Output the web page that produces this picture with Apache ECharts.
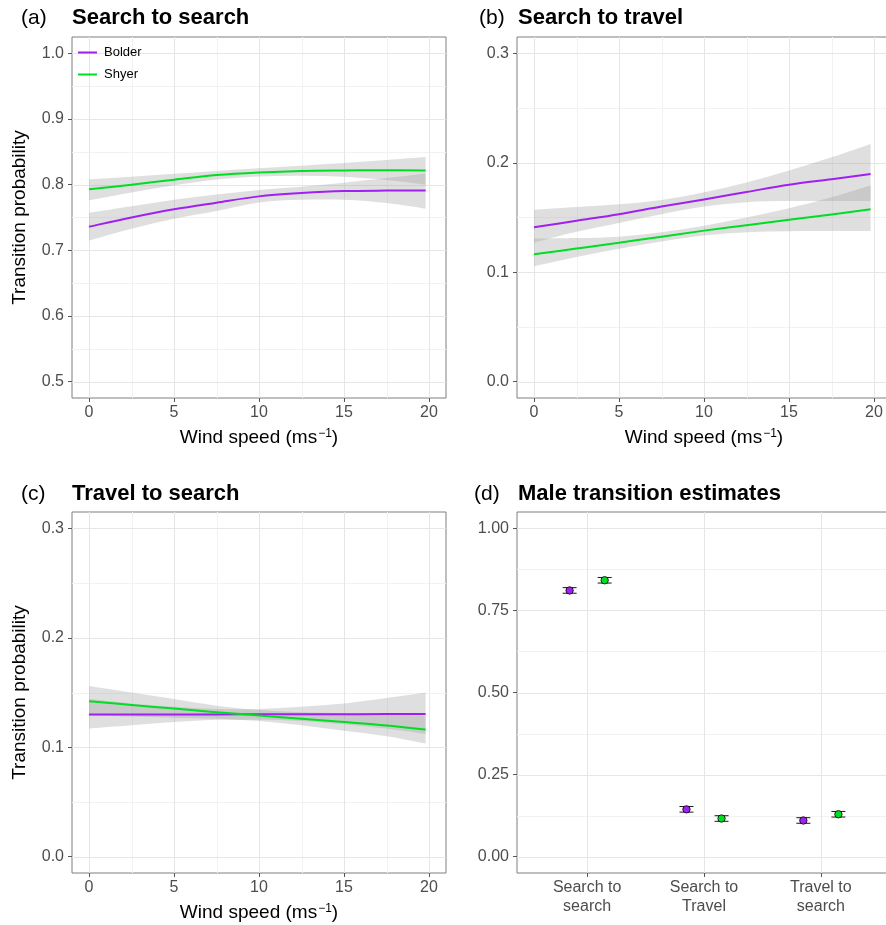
<!DOCTYPE html>
<html>
<head>
<meta charset="utf-8">
<script src="https://cdn.jsdelivr.net/npm/echarts@6.0.0/dist/echarts.min.js"></script>
<style>
html,body{margin:0;padding:0;background:#fff;}
#chart{width:886px;height:925px;}
</style>
</head>
<body>
<div id="chart"></div>
<script>
// ---------------- DATA ----------------
const windSpeed = [0, 2.5, 5, 7.5, 10, 12.5, 15, 17.5, 19.8];
const windTicks = [0, 5, 10, 15, 20];

// (a) Search to search
const aBolderFit  = [0.736, 0.750, 0.7625, 0.7726, 0.7822, 0.7872, 0.7903, 0.791, 0.791];
const aBolderLow  = [0.715, 0.733, 0.748, 0.760, 0.773, 0.777, 0.777, 0.772, 0.7635];
const aBolderHigh = [0.757, 0.767, 0.777, 0.785, 0.792, 0.797, 0.803, 0.810, 0.817];
const aShyerFit   = [0.793, 0.800, 0.8076, 0.8147, 0.8187, 0.821, 0.8217, 0.822, 0.8217];
const aShyerLow   = [0.776, 0.788, 0.799, 0.808, 0.8125, 0.8135, 0.812, 0.807, 0.800];
const aShyerHigh  = [0.808, 0.812, 0.8165, 0.821, 0.825, 0.829, 0.833, 0.8375, 0.842];
const aProbTicks  = [0.5, 0.6, 0.7, 0.8, 0.9, 1.0];

// (b) Search to travel
const bBolderFit  = [0.141, 0.147, 0.153, 0.160, 0.1665, 0.1733, 0.180, 0.185, 0.1897];
const bBolderLow  = [0.127, 0.137, 0.145, 0.153, 0.160, 0.164, 0.165, 0.165, 0.165];
const bBolderHigh = [0.157, 0.1595, 0.162, 0.166, 0.173, 0.182, 0.193, 0.205, 0.2173];
const bShyerFit   = [0.1164, 0.1216, 0.127, 0.1325, 0.138, 0.143, 0.148, 0.1528, 0.1575];
const bShyerLow   = [0.1055, 0.114, 0.1215, 0.128, 0.1335, 0.1365, 0.1375, 0.1377, 0.1377];
const bShyerHigh  = [0.1307, 0.1312, 0.1325, 0.1365, 0.1425, 0.150, 0.1585, 0.1685, 0.1793];
const bcProbTicks = [0.0, 0.1, 0.2, 0.3];

// (c) Travel to search
const cBolderFit  = [0.1298, 0.1299, 0.1300, 0.1300, 0.1301, 0.1302, 0.1302, 0.1303, 0.1304];
const cBolderLow  = [0.117, 0.120, 0.123, 0.125, 0.125, 0.124, 0.121, 0.117, 0.112];
const cBolderHigh = [0.144, 0.140, 0.137, 0.135, 0.135, 0.137, 0.140, 0.145, 0.150];
const cShyerFit   = [0.142, 0.1386, 0.1353, 0.1320, 0.1290, 0.1260, 0.1230, 0.1198, 0.1161];
const cShyerLow   = [0.129, 0.128, 0.127, 0.126, 0.124, 0.120, 0.115, 0.110, 0.1034];
const cShyerHigh  = [0.156, 0.150, 0.144, 0.138, 0.134, 0.132, 0.131, 0.130, 0.129];

// (d) Male transition estimates
const transitions = ['Search to\nsearch', 'Search to\nTravel', 'Travel to\nsearch'];
const dBolderMean = [0.811, 0.144, 0.110];
const dBolderLow  = [0.8025, 0.1355, 0.1015];
const dBolderHigh = [0.8195, 0.1525, 0.1185];
const dShyerMean  = [0.842, 0.116, 0.129];
const dShyerLow   = [0.8335, 0.1075, 0.1205];
const dShyerHigh  = [0.8505, 0.1245, 0.1375];
const dProbTicks  = [0, 0.25, 0.5, 0.75, 1.0];

const groups = ['Bolder', 'Shyer'];
const panelTitles = ['Search to search', 'Search to travel', 'Travel to search', 'Male transition estimates'];
const panelTags = ['(a)', '(b)', '(c)', '(d)'];

// ---------------- STYLE ----------------
const FONT = 'Liberation Sans, Arial, Helvetica, sans-serif';
const PURPLE = '#A020F0';
const GREEN = '#00DD22';
const RIBBON = 'rgba(153,153,153,0.31)';
const BORDER = '#7f7f7f';
const TICKCOL = '#555555';
const LABELCOL = '#4d4d4d';

function mids(t) { const r = []; for (let i = 0; i < t.length - 1; i++) r.push((t[i] + t[i + 1]) / 2); return r; }

const grids = [
  { left: 72, top: 37, right: 440, height: 361 },
  { left: 517, top: 37, right: -5, height: 361 },
  { left: 72, top: 512, right: 440, height: 361 },
  { left: 517, top: 512, right: -5, height: 361 }
].map(g => Object.assign({ show: true, borderColor: BORDER, borderWidth: 1, backgroundColor: '#fff', containLabel: false, outerBoundsMode: 'none' }, g));

const nameStyle = {
  fontSize: 19, color: '#000', fontFamily: FONT,
  rich: { sup: { fontSize: 12, color: '#000', fontFamily: FONT, verticalAlign: 'top', padding: [0, 0, 0, 1] } }
};

function xWind(gi) {
  return {
    type: 'value', gridIndex: gi, min: -1, max: 21,
    name: 'Wind speed (ms{sup|\u22121})', nameLocation: 'middle', nameGap: 30, nameTextStyle: nameStyle,
    axisLine: { show: false, onZero: false },
    axisTick: { show: true, customValues: windTicks, length: 4, lineStyle: { color: TICKCOL } },
    axisLabel: { customValues: windTicks, margin: 7, fontSize: 16, color: LABELCOL, fontFamily: FONT },
    splitLine: { show: false }
  };
}
function yProb(gi, min, max, ticks, dec, name) {
  const ax = {
    type: 'value', gridIndex: gi, min: min, max: max,
    axisLine: { show: false, onZero: false },
    axisTick: { show: true, customValues: ticks, length: 4, lineStyle: { color: TICKCOL } },
    axisLabel: { customValues: ticks, margin: 8, fontSize: 16, color: LABELCOL, fontFamily: FONT, formatter: v => v.toFixed(dec) },
    splitLine: { show: false }
  };
  if (name) {
    Object.assign(ax, { name: name, nameLocation: 'middle', nameGap: 43, nameRotate: 90, nameTextStyle: { fontSize: 19, color: '#000', fontFamily: FONT } });
  }
  return ax;
}

const xAxes = [
  xWind(0), xWind(1), xWind(2),
  {
    type: 'value', gridIndex: 3, min: 0.4, max: 3.6,
    axisLine: { show: false, onZero: false },
    axisTick: { show: true, customValues: [1, 2, 3], length: 4, lineStyle: { color: TICKCOL } },
    axisLabel: { customValues: [1, 2, 3], margin: 5, fontSize: 16, lineHeight: 19, color: LABELCOL, fontFamily: FONT,
      formatter: v => transitions[Math.round(v) - 1] },
    splitLine: { show: false }
  }
];
const yAxes = [
  yProb(0, 0.475, 1.025, aProbTicks, 1, 'Transition probability'),
  yProb(1, -0.015, 0.315, bcProbTicks, 1, null),
  yProb(2, -0.015, 0.315, bcProbTicks, 1, 'Transition probability'),
  yProb(3, -0.05, 1.05, dProbTicks, 2, null)
];

// grid lines drawn through the axes' scales
function gridLines(gi, xMaj, xMin, yMaj, yMin) {
  return {
    type: 'custom', xAxisIndex: gi, yAxisIndex: gi, z: 0, silent: true, data: [[xMaj[0], yMaj[0]]],
    renderItem: function (params, api) {
      const cs = params.coordSys;
      const ch = [];
      const vline = (v, col, w) => {
        const x = Math.round(api.coord([v, yMaj[0]])[0]) + 0.5;
        ch.push({ type: 'line', shape: { x1: x, y1: cs.y, x2: x, y2: cs.y + cs.height }, style: { stroke: col, lineWidth: w } });
      };
      const hline = (v, col, w) => {
        const y = Math.round(api.coord([xMaj[0], v])[1]) + 0.5;
        ch.push({ type: 'line', shape: { x1: cs.x, y1: y, x2: cs.x + cs.width, y2: y }, style: { stroke: col, lineWidth: w } });
      };
      xMin.forEach(v => vline(v, '#f2f2f2', 1));
      yMin.forEach(v => hline(v, '#f2f2f2', 1));
      xMaj.forEach(v => vline(v, '#e6e6e6', 1));
      yMaj.forEach(v => hline(v, '#e6e6e6', 1));
      return { type: 'group', children: ch };
    }
  };
}

// smooth path (Catmull-Rom -> cubic Bezier) through pixel points
function curveCmds(pts, first) {
  let d = (first ? 'M' : 'L') + pts[0][0].toFixed(2) + ',' + pts[0][1].toFixed(2);
  for (let i = 0; i < pts.length - 1; i++) {
    const p0 = pts[Math.max(i - 1, 0)], p1 = pts[i], p2 = pts[i + 1], p3 = pts[Math.min(i + 2, pts.length - 1)];
    const c1 = [p1[0] + (p2[0] - p0[0]) / 6, p1[1] + (p2[1] - p0[1]) / 6];
    const c2 = [p2[0] - (p3[0] - p1[0]) / 6, p2[1] - (p3[1] - p1[1]) / 6];
    d += 'C' + c1[0].toFixed(2) + ',' + c1[1].toFixed(2) + ' ' + c2[0].toFixed(2) + ',' + c2[1].toFixed(2) + ' ' + p2[0].toFixed(2) + ',' + p2[1].toFixed(2);
  }
  return d;
}

function ribbon(gi, low, high) {
  return {
    type: 'custom', xAxisIndex: gi, yAxisIndex: gi, z: 1, silent: true,
    data: windSpeed.map((x, i) => [x, low[i], high[i]]),
    renderItem: function (params, api) {
      if (params.dataIndex !== 0) return null;
      const up = windSpeed.map((x, i) => api.coord([x, high[i]]));
      const lo = windSpeed.map((x, i) => api.coord([x, low[i]])).reverse();
      const d = curveCmds(up, true) + curveCmds(lo, false) + 'Z';
      return { type: 'path', shape: { pathData: d }, style: { fill: RIBBON, stroke: null } };
    }
  };
}
function fitLine(gi, name, fit, color) {
  return {
    type: 'custom', xAxisIndex: gi, yAxisIndex: gi, name: name, z: 3, color: color,
    data: windSpeed.map((x, i) => [x, fit[i]]),
    renderItem: function (params, api) {
      if (params.dataIndex !== 0) return null;
      const pts = windSpeed.map((x, i) => api.coord([x, fit[i]]));
      return { type: 'path', shape: { pathData: curveCmds(pts, true) },
        style: { fill: null, stroke: color, lineWidth: 2, lineCap: 'butt', lineJoin: 'round' } };
    }
  };
}

const dodge = [-0.15, 0.15];
function estSeries(gidx, mean, low, high, color) {
  return {
    type: 'custom', xAxisIndex: 3, yAxisIndex: 3, name: groups[gidx] + ' estimate', z: 3,
    data: mean.map((m, i) => [i + 1 + dodge[gidx], m, low[i], high[i]]),
    renderItem: function (params, api) {
      const x = api.value(0);
      const pm = api.coord([x, api.value(1)]);
      const pl = api.coord([x, api.value(2)]);
      const ph = api.coord([x, api.value(3)]);
      const hw = 7;
      const st = { stroke: '#1a1a1a', lineWidth: 1 };
      return { type: 'group', children: [
        { type: 'line', shape: { x1: pm[0], y1: pl[1], x2: pm[0], y2: ph[1] }, style: st },
        { type: 'line', shape: { x1: pm[0] - hw, y1: pl[1], x2: pm[0] + hw, y2: pl[1] }, style: st },
        { type: 'line', shape: { x1: pm[0] - hw, y1: ph[1], x2: pm[0] + hw, y2: ph[1] }, style: st },
        { type: 'circle', shape: { cx: pm[0], cy: pm[1], r: 3.7 }, style: { fill: color, stroke: '#000', lineWidth: 0.8 } }
      ] };
    }
  };
}

const series = [
  gridLines(0, windTicks, mids(windTicks), aProbTicks, mids(aProbTicks)),
  gridLines(1, windTicks, mids(windTicks), bcProbTicks, mids(bcProbTicks)),
  gridLines(2, windTicks, mids(windTicks), bcProbTicks, mids(bcProbTicks)),
  gridLines(3, [1, 2, 3], [], dProbTicks, mids(dProbTicks)),
  ribbon(0, aBolderLow, aBolderHigh), ribbon(0, aShyerLow, aShyerHigh),
  ribbon(1, bBolderLow, bBolderHigh), ribbon(1, bShyerLow, bShyerHigh),
  ribbon(2, cBolderLow, cBolderHigh), ribbon(2, cShyerLow, cShyerHigh),
  fitLine(0, 'Bolder', aBolderFit, PURPLE), fitLine(0, 'Shyer', aShyerFit, GREEN),
  fitLine(1, 'Bolder', bBolderFit, PURPLE), fitLine(1, 'Shyer', bShyerFit, GREEN),
  fitLine(2, 'Bolder', cBolderFit, PURPLE), fitLine(2, 'Shyer', cShyerFit, GREEN),
  estSeries(0, dBolderMean, dBolderLow, dBolderHigh, PURPLE),
  estSeries(1, dShyerMean, dShyerLow, dShyerHigh, GREEN)
];

const tagPos = [[21, 8], [479, 8], [21, 484], [474, 484]];
const titlePos = [[72, 7], [518, 7], [72, 483], [518, 483]];
const titles = [];
panelTags.forEach((t, i) => titles.push({ text: t, left: tagPos[i][0], top: tagPos[i][1], padding: 0,
  textStyle: { fontSize: 21, fontWeight: 'normal', color: '#000', fontFamily: FONT } }));
panelTitles.forEach((t, i) => titles.push({ text: t, left: titlePos[i][0], top: titlePos[i][1], padding: 0,
  textStyle: { fontSize: 22, fontWeight: 'bold', color: '#000', fontFamily: FONT } }));

const chart = echarts.init(document.getElementById('chart'), null, { renderer: 'canvas' });
chart.setOption({
  animation: false,
  backgroundColor: '#fff',
  title: titles,
  legend: {
    data: groups.map(g => ({ name: g, icon: 'rect' })), orient: 'vertical', left: 78, top: 46, padding: 0,
    itemWidth: 19, itemHeight: 2, itemGap: 9,
    textStyle: { fontSize: 13, color: '#000', fontFamily: FONT, padding: [0, 0, 0, 2] }
  },
  grid: grids,
  xAxis: xAxes,
  yAxis: yAxes,
  series: series
});
</script>
</body>
</html>
